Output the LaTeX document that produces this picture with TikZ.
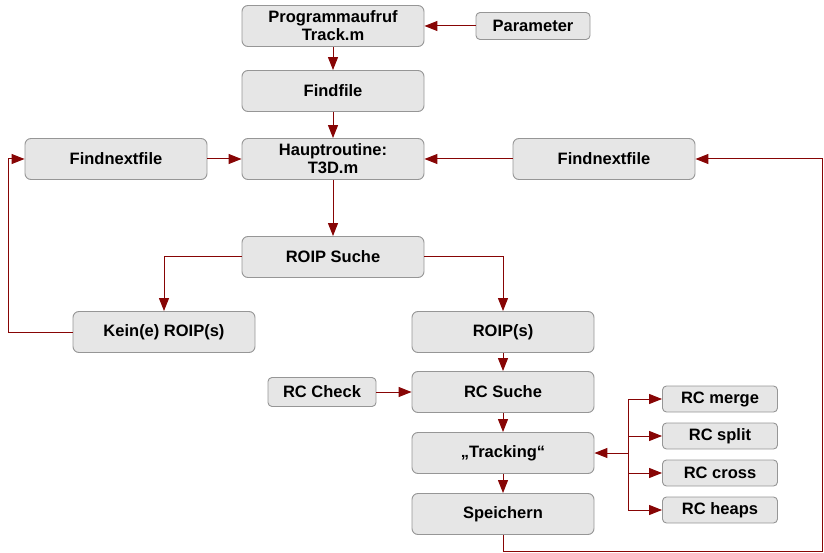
\documentclass[tikz,border=0pt]{standalone}
\usepackage{fontspec}
\setmainfont{Liberation Sans}
\usetikzlibrary{arrows.meta}
\definecolor{linered}{RGB}{135,5,5}
\definecolor{boxfill}{RGB}{230,230,230}
\definecolor{boxedge}{RGB}{150,150,150}
\tikzset{
  box/.style={draw=boxedge, fill=boxfill, line width=0.9pt, rounded corners=6pt,
    minimum width=182pt, minimum height=41pt, inner sep=0pt, align=center,
    font=\fontsize{16.5}{18}\selectfont\bfseries},
  smallbox/.style={box, minimum width=115pt, minimum height=26pt, rounded corners=4pt},
  conn/.style={draw=linered, line width=1pt, -{Triangle[length=13pt,width=10pt]}},
  plain/.style={draw=linered, line width=1pt}
}
\begin{document}
\begin{tikzpicture}[x=1pt,y=-1pt]
\useasboundingbox (0,0) rectangle (824,553);
\node[box] (prog) at (333,26) {Programmaufruf\\Track.m};
\node[smallbox, minimum width=114pt, minimum height=27pt] (param) at (533,26) {Parameter};
\node[box] (ff) at (333,91) {Findfile};
\node[box] (fnl) at (116,159) {Findnextfile};
\node[box] (haupt) at (333,159) {Hauptroutine:\\T3D.m};
\node[box] (fnr) at (604,159) {Findnextfile};
\node[box] (roips) at (333,257) {ROIP Suche};
\node[box] (kein) at (164,332) {Kein(e) ROIP(s)};
\node[box] (roip) at (503,332) {ROIP(s)};
\node[smallbox, minimum width=108pt, minimum height=29pt] (rccheck) at (322,392) {RC Check};
\node[box] (rcsuche) at (503,392) {RC Suche};
\node[box] (track) at (503,453) {„Tracking“};
\node[box] (speich) at (503,514) {Speichern};
\node[smallbox] (merge) at (720,399) {RC merge};
\node[smallbox] (split) at (720,436) {RC split};
\node[smallbox] (cross) at (720,473) {RC cross};
\node[smallbox] (heaps) at (720,510) {RC heaps};

\coordinate (j) at (628,453);
\coordinate (lft) at (8,332);
\coordinate (rgt) at (822,551);

\draw[conn] (param) -- (prog);
\draw[conn] (prog) -- (ff);
\draw[conn] (ff) -- (haupt);
\draw[conn] (fnl) -- (haupt);
\draw[conn] (fnr) -- (haupt);
\draw[conn] (haupt) -- (roips);
\draw[conn] (roips.west) -| (kein.north);
\draw[conn] (roips.east) -| (roip.north);
\draw[conn] (kein.west) -- (lft) |- (fnl.west);
\draw[conn] (roip) -- (rcsuche);
\draw[conn] (rccheck) -- (rcsuche);
\draw[conn] (rcsuche) -- (track);
\draw[conn] (track) -- (speich);
\draw[conn] (speich.south) |- (rgt) |- (fnr.east);
\draw[conn] (j) -- (track.east);
\draw[plain] (j |- merge.west) -- (j |- heaps.west);
\draw[conn] (j |- merge.west) -- (merge.west);
\draw[conn] (j |- split.west) -- (split.west);
\draw[conn] (j |- cross.west) -- (cross.west);
\draw[conn] (j |- heaps.west) -- (heaps.west);
\end{tikzpicture}
\end{document}
